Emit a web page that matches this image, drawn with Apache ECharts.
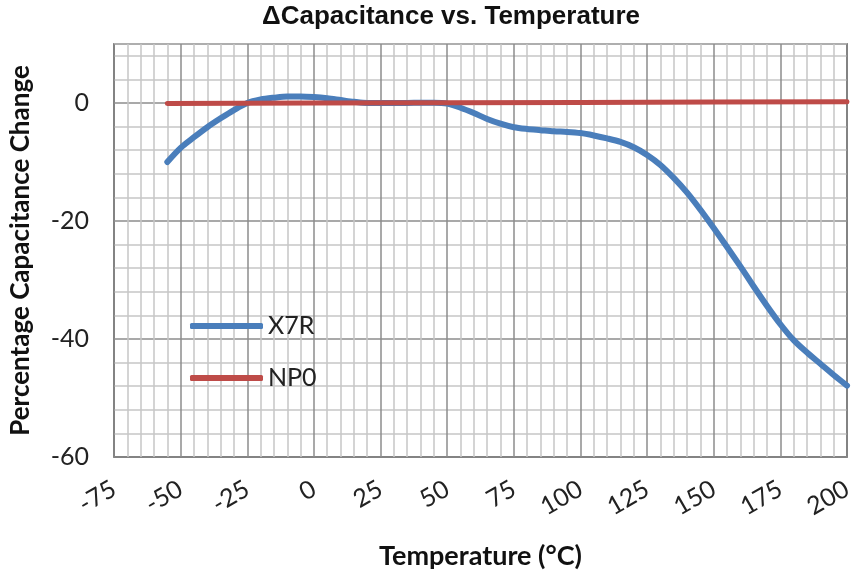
<!DOCTYPE html>
<html>
<head>
<meta charset="utf-8">
<title>ΔCapacitance vs. Temperature</title>
<script src="https://cdn.jsdelivr.net/npm/echarts@6/dist/echarts.min.js"></script>
<style>
  html, body { margin: 0; padding: 0; background: #fff; }
  #chart { width: 856px; height: 577px; }
</style>
</head>
<body>
<div id="chart"></div>
<script>
// Temperature sweep (°C) and percentage capacitance change per dielectric
const temps = [-55, -50, -45, -40, -35, -30, -25, -20, -15, -10, -5, 0, 5, 10, 15, 20,
  25, 30, 35, 40, 45, 50, 55, 60, 65, 70, 75, 80, 85, 90, 95, 100, 105, 110, 115, 120,
  125, 130, 135, 140, 145, 150, 155, 160, 165, 170, 175, 180, 185, 190, 195, 200];
const x7r = [-10.0, -7.6, -5.8, -4.1, -2.6, -1.2, 0.0, 0.6, 0.9, 1.1, 1.1, 1.0, 0.8, 0.5, 0.2, 0.0,
  0.0, 0.0, 0.0, 0.05, 0.05, -0.1, -0.8, -1.7, -2.7, -3.5, -4.1, -4.4, -4.6, -4.8, -4.9, -5.1,
  -5.5, -6.0, -6.6, -7.5, -8.8, -10.5, -12.7, -15.2, -18.1, -21.2, -24.4, -27.7, -31.1, -34.4,
  -37.5, -40.2, -42.3, -44.2, -46.1, -47.9];

const np0Temps = [-55, 0, 50, 100, 150, 200];
const np0 = [-0.1, 0.0, 0.05, 0.1, 0.15, 0.2];

// Axis ranges and labelled tick steps
const xRange = [-75, 200];
const xMajorStep = 25;
const yRange = [-60, 10];
const yMajorStep = 20;
const yMinorStep = 4;

const seriesNames = ['X7R', 'NP0'];
const chartTitle = 'ΔCapacitance vs. Temperature';
const xName = 'Temperature (°C)';
const yName = 'Percentage Capacitance Change';

const pair = (xs, ys) => xs.map((t, i) => [t, ys[i]]);

const MAJOR = '#8c8c8c';
const MINOR = '#c6c6c6';
const labelFont = 'Lato, "Open Sans", sans-serif';

const chart = echarts.init(document.getElementById('chart'), null, { renderer: 'canvas' });

chart.setOption({
  animation: false,
  backgroundColor: '#ffffff',
  title: {
    text: chartTitle,
    left: 262,
    top: 4,
    padding: 0,
    textStyle: {
      fontFamily: '"Liberation Sans", Arial, sans-serif',
      fontWeight: 'bold',
      fontSize: 26,
      color: '#111'
    }
  },
  grid: {
    left: 113,
    right: 9,
    top: 44,
    bottom: 120,
    show: true,
    backgroundColor: '#fff',
    borderColor: '#3a3a3a',
    borderWidth: 1.5
  },
  legend: {
    orient: 'vertical',
    left: 190,
    top: 311,
    padding: 0,
    itemWidth: 73,
    itemHeight: 6,
    itemGap: 22,
    data: seriesNames.map(n => ({ name: n, icon: 'roundRect' })),
    textStyle: {
      fontFamily: labelFont,
      fontSize: 25,
      lineHeight: 30,
      color: '#222'
    }
  },
  xAxis: {
    type: 'value',
    min: xRange[0],
    max: xRange[1],
    interval: xMajorStep,
    name: xName,
    nameLocation: 'middle',
    nameGap: 86,
    nameTextStyle: {
      fontFamily: labelFont,
      fontWeight: 'bold',
      fontSize: 27,
      color: '#111'
    },
    axisLine: { show: false },
    axisTick: { show: false },
    axisLabel: {
      rotate: 30,
      margin: 30,
      fontFamily: labelFont,
      fontSize: 25,
      color: '#222'
    },
    splitLine: { show: true, lineStyle: { color: MAJOR, width: 1.5 } },
    minorTick: { show: false, splitNumber: 5 },
    minorSplitLine: { show: true, lineStyle: { color: MINOR, width: 1.5 } }
  },
  yAxis: {
    type: 'value',
    min: yRange[0],
    max: yRange[1],
    interval: yMinorStep,
    name: yName,
    nameLocation: 'middle',
    nameGap: 80,
    nameTextStyle: {
      fontFamily: labelFont,
      fontWeight: 'bold',
      fontSize: 26,
      color: '#111'
    },
    axisLine: { show: false },
    axisTick: { show: false },
    axisLabel: {
      margin: 25,
      fontFamily: labelFont,
      fontSize: 25,
      color: '#222',
      formatter: v => (v % yMajorStep === 0 ? String(v) : '')
    },
    splitLine: {
      show: true,
      lineStyle: { color: [MAJOR, MINOR, MINOR, MINOR, MINOR], width: 1.5 }
    }
  },
  series: [
    {
      name: seriesNames[0],
      type: 'line',
      data: pair(temps, x7r),
      smooth: 0.3,
      showSymbol: false,
      symbol: 'none',
      itemStyle: { color: '#4A7EBB' },
      lineStyle: { color: '#4A7EBB', width: 6, cap: 'round', join: 'round' }
    },
    {
      name: seriesNames[1],
      type: 'line',
      data: pair(np0Temps, np0),
      showSymbol: false,
      symbol: 'none',
      itemStyle: { color: '#BE4B48' },
      lineStyle: { color: '#BE4B48', width: 5, cap: 'round' }
    }
  ]
});
</script>
</body>
</html>
